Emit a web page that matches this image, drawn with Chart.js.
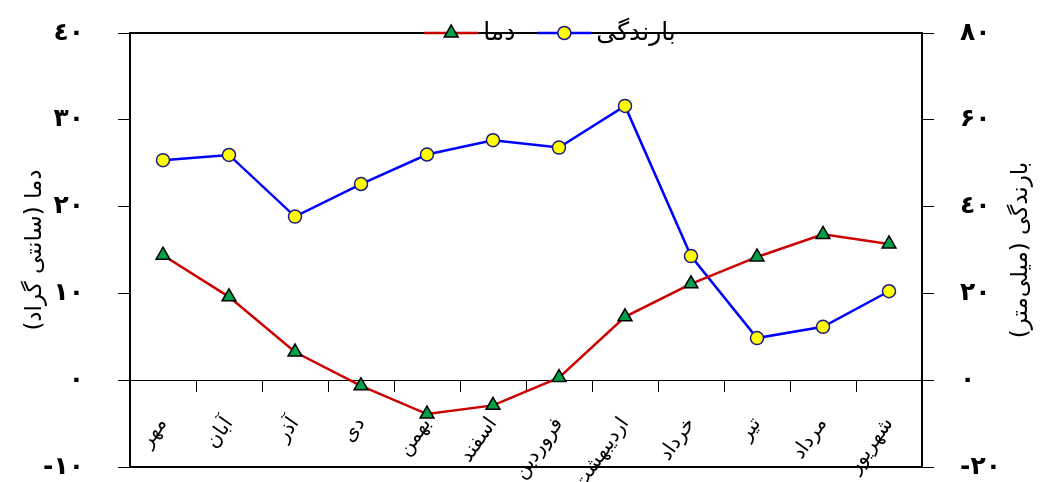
<!DOCTYPE html>
<html>
<head>
<meta charset="utf-8">
<script src="https://cdn.jsdelivr.net/npm/chart.js@4/dist/chart.umd.min.js"></script>
<style>
  html, body { margin: 0; padding: 0; background: #fff; }
  .chart-container { width: 1043px; height: 482px; }
</style>
</head>
<body>
<div class="chart-container">
  <canvas id="chart"></canvas>
</div>
<script>
// months (Persian calendar, starting from Mehr)
const months = ['مهر', 'آبان', 'آذر', 'دی', 'بهمن', 'اسفند', 'فروردین', 'اردیبهشت', 'خرداد', 'تیر', 'مرداد', 'شهریور'];
// temperature, degrees C (left axis)
const temperature = [14.4, 9.6, 3.25, -0.65, -3.9, -2.9, 0.3, 7.3, 11.1, 14.2, 16.8, 15.7];
// rainfall, mm (right axis)
const rainfall = [50.7, 51.9, 37.7, 45.2, 52.0, 55.3, 53.6, 63.2, 28.6, 9.7, 12.3, 20.5];

const tempRange = [-10, 40, 10];
const rainRange = [-20, 80, 20];
const tempTitle = 'دما (سانتی گراد)';
const rainTitle = 'بارندگی (میلی‌متر)';

const FONT = '"DejaVu Sans", sans-serif';
const digits = '٠١٢٣٤٥۶٧٨٩';
const toLocalDigits = v => String(v).replace(/\d/g, d => digits[d]);

// fixed axis widths, and no extra padding so the plot keeps its place
const fixWidth = w => s => {
  s.width = w;
  s.paddingTop = 0;
  s.paddingBottom = 0;
};

// black frame around the plot
const framePlugin = {
  id: 'frame',
  beforeDatasetsDraw(chart) {
    const { ctx, chartArea: a } = chart;
    ctx.save();
    ctx.strokeStyle = '#000';
    ctx.lineWidth = 2;
    ctx.strokeRect(a.left, a.top, a.right - a.left, a.bottom - a.top);
    ctx.restore();
  }
};

// right axis title, turned the same way as the left one
const rightTitle = {
  id: 'rightTitle',
  afterDraw(chart) {
    const { ctx, chartArea: a } = chart;
    const s = chart.scales.y1;
    ctx.save();
    ctx.font = '23px ' + FONT;
    ctx.fillStyle = '#000';
    ctx.textAlign = 'center';
    ctx.textBaseline = 'middle';
    ctx.translate(s.right - 22, (a.top + a.bottom) / 2);
    ctx.rotate(-Math.PI / 2);
    ctx.fillText(rainTitle, 0, 0);
    ctx.restore();
  }
};

// legend sitting on the top edge of the frame: line sample with marker, then label
const lineLegend = {
  id: 'lineLegend',
  afterDraw(chart) {
    const { ctx, chartArea: a } = chart;
    const sampleW = 54, gap = 5, spacing = 22;
    ctx.save();
    ctx.font = '25px ' + FONT;
    const items = chart.data.datasets.map(ds => ({ ds, w: ctx.measureText(ds.label).width }));
    const total = items.reduce((s, it) => s + sampleW + gap + it.w, 0) + spacing * (items.length - 1);
    let x = (a.left + a.right) / 2 - total / 2 + 24;
    const y = a.top;
    items.forEach(({ ds, w }) => {
      ctx.strokeStyle = ds.borderColor;
      ctx.lineWidth = ds.borderWidth;
      ctx.beginPath();
      ctx.moveTo(x, y);
      ctx.lineTo(x + sampleW, y);
      ctx.stroke();
      ctx.fillStyle = ds.pointBackgroundColor;
      ctx.strokeStyle = ds.pointBorderColor;
      ctx.lineWidth = ds.pointBorderWidth;
      Chart.helpers.drawPoint(ctx, {
        pointStyle: ds.pointStyle,
        radius: ds.pointRadius,
        rotation: 0,
        borderWidth: ds.pointBorderWidth
      }, x + sampleW / 2, y);
      ctx.fillStyle = '#000';
      ctx.textAlign = 'left';
      ctx.textBaseline = 'middle';
      ctx.fillText(ds.label, x + sampleW + gap, y);
      x += sampleW + gap + w + spacing;
    });
    ctx.restore();
  }
};

const ctx = document.getElementById('chart').getContext('2d');
new Chart(ctx, {
  type: 'line',
  data: {
    labels: months,
    datasets: [
      {
        label: 'دما',
        data: temperature,
        yAxisID: 'y',
        borderColor: '#cc0000',
        borderWidth: 2.5,
        pointStyle: 'triangle',
        pointRadius: 8,
        pointBackgroundColor: '#00a04a',
        pointBorderColor: '#000',
        pointBorderWidth: 1.5,
        tension: 0
      },
      {
        label: 'بارندگی',
        data: rainfall,
        yAxisID: 'y1',
        borderColor: '#0000ff',
        borderWidth: 2.5,
        pointStyle: 'circle',
        pointRadius: 6.5,
        pointBackgroundColor: '#ffff00',
        pointBorderColor: '#1a1a80',
        pointBorderWidth: 1.5,
        tension: 0
      }
    ]
  },
  options: {
    responsive: true,
    maintainAspectRatio: false,
    animation: false,
    layout: { padding: { top: 33, bottom: 15, left: 0, right: 0 } },
    plugins: {
      legend: { display: false },
      tooltip: { enabled: false }
    },
    scales: {
      x: {
        type: 'category',
        offset: true,
        position: { y: 0 },
        border: { display: true, color: '#000', width: 1 },
        grid: { drawOnChartArea: false, offset: true, color: '#000', tickLength: 11 },
        ticks: {
          color: '#000',
          font: { family: FONT, size: 20 },
          minRotation: 55,
          maxRotation: 55,
          autoSkip: false,
          padding: 22
        },
        afterFit: s => { s.height = 0; }
      },
      y: {
        position: 'left',
        min: tempRange[0],
        max: tempRange[1],
        border: { display: false },
        grid: { drawOnChartArea: false, color: '#000', tickLength: 12 },
        ticks: {
          stepSize: tempRange[2],
          color: '#000',
          font: { family: FONT, size: 25, weight: 'bold' },
          padding: 34,
          callback: v => toLocalDigits(v)
        },
        title: {
          display: true,
          text: tempTitle,
          color: '#000',
          font: { family: FONT, size: 23 },
          padding: { top: 21, bottom: 0 }
        },
        afterFit: fixWidth(130)
      },
      y1: {
        position: 'right',
        min: rainRange[0],
        max: rainRange[1],
        border: { display: false },
        grid: { drawOnChartArea: false, color: '#000', tickLength: 12 },
        ticks: {
          stepSize: rainRange[2],
          color: '#000',
          font: { family: FONT, size: 25, weight: 'bold' },
          padding: 26,
          callback: v => toLocalDigits(v)
        },
        afterFit: fixWidth(121)
      }
    }
  },
  plugins: [framePlugin, rightTitle, lineLegend]
});
</script>
</body>
</html>
